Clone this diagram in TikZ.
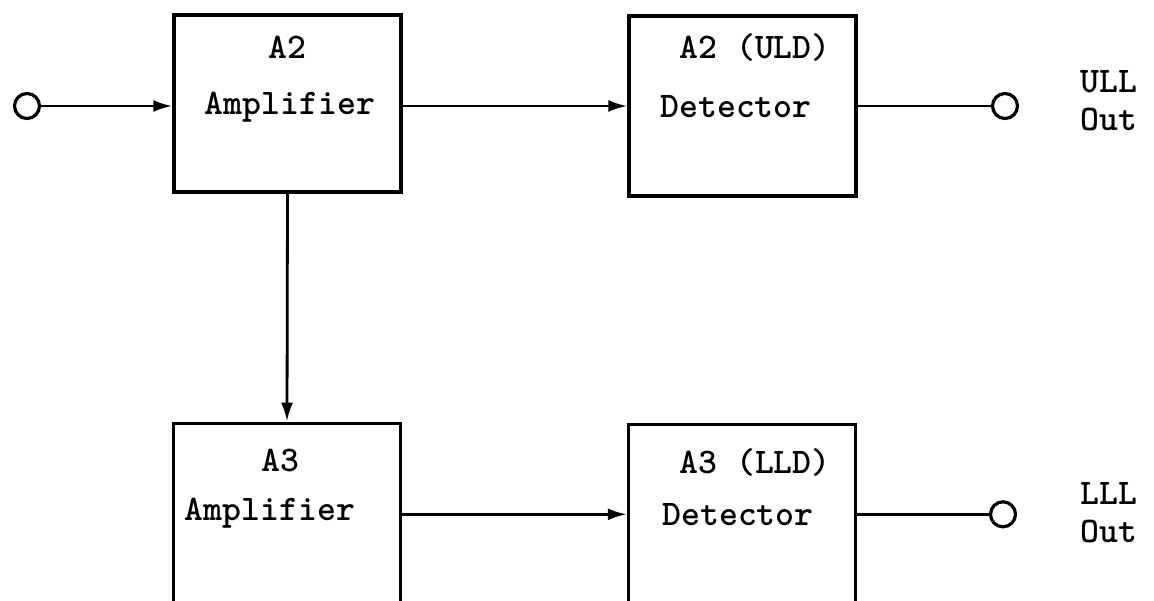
\documentclass[tikz,border=0pt]{standalone}
\usepackage{fontspec}
\usepackage{tikz}
\usetikzlibrary{arrows.meta,positioning}
\tikzset{
  ubox/.style={draw=black, line width=3.4pt, minimum width=227pt, minimum height=180pt, inner sep=0pt},
  utxt/.style={font=\fontsize{36}{38}\selectfont\ttfamily\bfseries, inner sep=0pt},
  farr/.style={-{Latex[length=19pt,width=12pt]}, line width=2.8pt},
  fline/.style={line width=2.8pt},
  fport/.style={draw=black, circle, line width=3.2pt, minimum size=25pt, inner sep=0pt}
}
\begin{document}
\begin{tikzpicture}[x=1pt,y=1pt]
\useasboundingbox (0,0) rectangle (1154,600);
\clip (0,0) rectangle (1154,600);
% boxes
\node[ubox, minimum height=177pt] (a2amp) at (287.5,496.5) {};
\node[ubox] (a2det) at (742.5,494) {};
\node[ubox] (a3amp) at (287,86.7) {};
\node[ubox] (a3det) at (742,85.7) {};
% texts
\node[utxt] (a2tag) at (287,553) {A2};
\node[utxt] (a2name) at (290,493) {Amplifier};
\node[utxt] (a2dtag) at (755,553) {A2 (ULD)};
\node[utxt] (a2dname) at (736,493) {Detector};
\node[utxt] (a3tag) at (280,140) {A3};
\node[utxt] (a3name) at (270,87) {Amplifier};
\node[utxt] (a3dtag) at (755,138) {A3 (LLD)};
\node[utxt] (a3dname) at (738,85) {Detector};
% ports
\node[fport] (in) at (27,494) {};
\node[fport] (ullport) at (1005,494) {};
\node[fport] (lllport) at (1003,85.7) {};
\node[utxt, align=left, anchor=west] (ulllbl) at (1080,499) {ULL\\Out};
\node[utxt, align=left, anchor=west] (llllbl) at (1080,87.5) {LLL\\Out};
% signal lines
\draw[farr] (in) -- (in -| a2amp.west);
\draw[farr] (a2det.west -| a2amp.east) -- (a2det.west);
\draw[fline] (a2det.east) -- (ullport);
\draw[farr] (a2amp.south) -- (a3amp.north);
\draw[farr] (a3det.west -| a3amp.east) -- (a3det.west);
\draw[fline] (a3det.east) -- (lllport);
\end{tikzpicture}
\end{document}
